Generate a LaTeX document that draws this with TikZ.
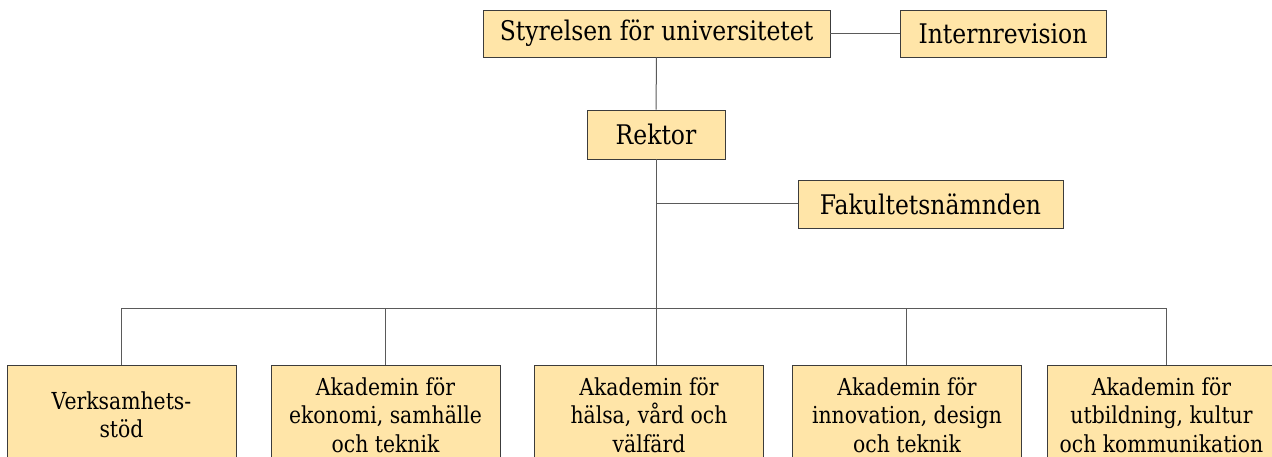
\documentclass[tikz,border=0pt]{standalone}
\usepackage{fontspec}
\setmainfont{DejaVu Serif}[FakeStretch=0.87]
\definecolor{boxfill}{RGB}{255,229,168}
\definecolor{boxline}{RGB}{60,60,60}
\definecolor{linegray}{RGB}{90,90,90}
\begin{document}
\begin{tikzpicture}[x=1pt,y=-1pt,
  box/.style={draw=boxline, fill=boxfill, line width=0.9pt, inner sep=0pt, align=center},
  topfont/.style={font=\fontsize{27}{32}\selectfont},
  lowfont/.style={font=\fontsize{23.4}{28.5}\selectfont},
  lowbox/.style={box, lowfont, minimum width=229pt, minimum height=100pt},
  conn/.style={draw=linegray, line width=1pt}]
\useasboundingbox (0,0) rectangle (1272,457);
\clip (0,0) rectangle (1272,457);
\node[box, topfont, minimum width=347pt, minimum height=47pt] (sty) at (656.5,33.5) {Styrelsen för universitetet};
\node[box, topfont, minimum width=206pt, minimum height=47pt] (int) at (1003,33.5) {Internrevision};
\node[box, topfont, minimum width=138pt, minimum height=49pt] (rek) at (656,134.5) {Rektor};
\node[box, topfont, minimum width=265pt, minimum height=48pt] (fak) at (930.5,204) {Fakultetsnämnden};
\node[lowbox] (b1) at (121.5,415) {Verksamhets-\\stöd};
\node[lowbox] (b2) at (385.5,415) {Akademin för\\ekonomi, samhälle\\och teknik};
\node[lowbox] (b3) at (649,415) {Akademin för\\hälsa, vård och\\välfärd};
\node[lowbox] (b4) at (907,415) {Akademin för\\innovation, design\\och teknik};
\node[lowbox] (b5) at (1161.5,415) {Akademin för\\utbildning, kultur\\och kommunikation};
\coordinate (bus) at (656,308);
\coordinate (d1) at (121.5,308);
\coordinate (d2) at (385.5,308);
\coordinate (d4) at (906.5,308);
\coordinate (d5) at (1166.5,308);
\draw[conn] (sty.east) -- (int.west);
\draw[conn] (sty.south) -- (rek.north);
\draw[conn] (rek.south) -- (bus);
\draw[conn] (rek.south |- fak.west) -- (fak.west);
\draw[conn] (d1) -- (d5);
\draw[conn] (d1) -- (d1 |- b1.north);
\draw[conn] (d2) -- (d2 |- b2.north);
\draw[conn] (bus) -- (bus |- b3.north);
\draw[conn] (d4) -- (d4 |- b4.north);
\draw[conn] (d5) -- (d5 |- b5.north);
\end{tikzpicture}
\end{document}
